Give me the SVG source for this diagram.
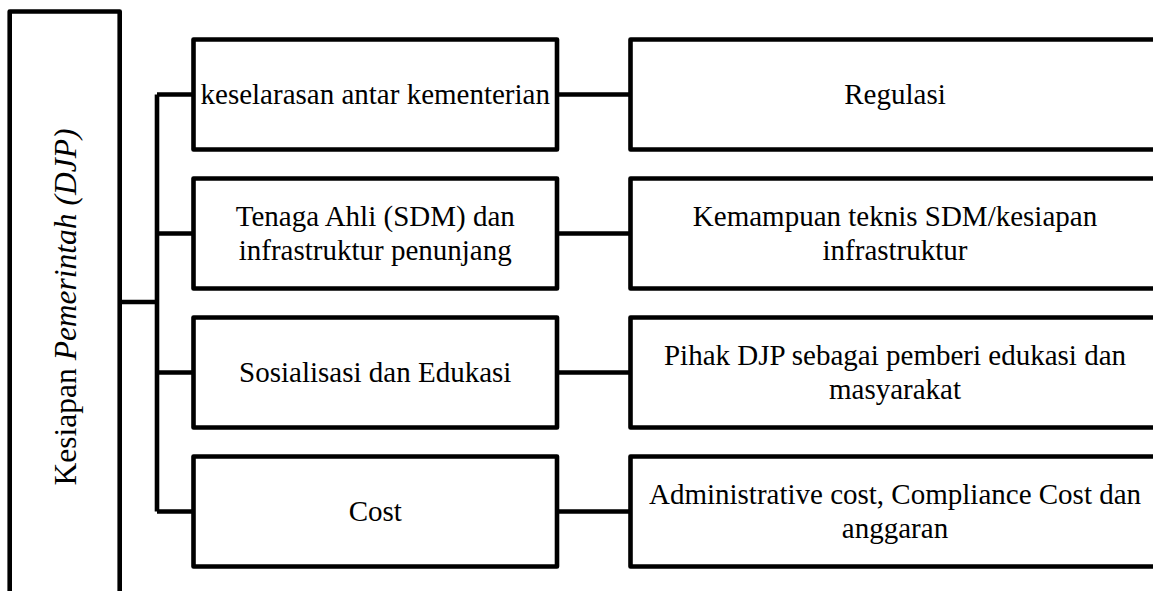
<svg xmlns="http://www.w3.org/2000/svg" width="1153" height="591" viewBox="0 0 1153 591">
<style>
.box{fill:#fff;stroke:#000;stroke-width:4.6;stroke-linejoin:round}
.ln{fill:none;stroke:#000;stroke-width:4.6;stroke-linejoin:round;stroke-linecap:butt}
text{font-family:"Liberation Serif","Times New Roman",serif;font-size:29px;fill:#000;text-anchor:middle}
</style>
<rect width="1153" height="591" fill="#fff"/>
<g id="connectors">
<path class="ln" d="M119.7 302 H157"/>
<path class="ln" d="M157 94.5 V511.5"/>
<path class="ln" d="M157 94.5 H193.5 M157 233.5 H193.5 M157 372.5 H193.5 M157 511.5 H193.5"/>
<path class="ln" d="M557 94.5 H630.5 M557 233.5 H630.5 M557 372.5 H630.5 M557 511.5 H630.5"/>
</g>
<g id="root">
<rect class="box" x="9.7" y="11.5" width="110" height="600"/>
<text transform="translate(76 307) rotate(-90)" style="font-size:31.5px">Kesiapan <tspan font-style="italic">Pemerintah (DJP)</tspan></text>
</g>
<g id="n1">
<rect class="box" x="193.5" y="39.5" width="363.5" height="110"/>
<text x="375.25" y="103.5">keselarasan antar kementerian</text>
</g>
<g id="n1r">
<rect class="box" x="630.5" y="39.5" width="540" height="110"/>
<text x="895" y="103.5">Regulasi</text>
</g>
<g id="n2">
<rect class="box" x="193.5" y="178.5" width="363.5" height="110"/>
<text x="375.25" y="226">Tenaga Ahli (SDM) dan</text>
<text x="375.25" y="259.5">infrastruktur penunjang</text>
</g>
<g id="n2r">
<rect class="box" x="630.5" y="178.5" width="540" height="110"/>
<text x="895" y="226">Kemampuan teknis SDM/kesiapan</text>
<text x="895" y="259.5">infrastruktur</text>
</g>
<g id="n3">
<rect class="box" x="193.5" y="317.5" width="363.5" height="110"/>
<text x="375.25" y="381.5">Sosialisasi dan Edukasi</text>
</g>
<g id="n3r">
<rect class="box" x="630.5" y="317.5" width="540" height="110"/>
<text x="895" y="365">Pihak DJP sebagai pemberi edukasi dan</text>
<text x="895" y="398.5">masyarakat</text>
</g>
<g id="n4">
<rect class="box" x="193.5" y="456.5" width="363.5" height="110"/>
<text x="375.25" y="520.5">Cost</text>
</g>
<g id="n4r">
<rect class="box" x="630.5" y="456.5" width="540" height="110"/>
<text x="895" y="504">Administrative cost, Compliance Cost dan</text>
<text x="895" y="537.5">anggaran</text>
</g>
</svg>
